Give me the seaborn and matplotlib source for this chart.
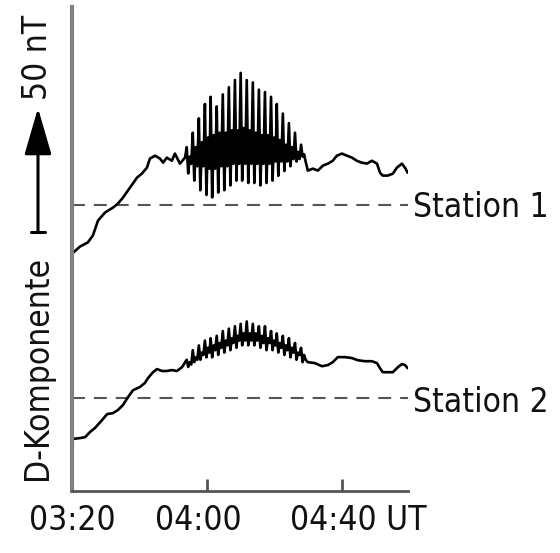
import matplotlib
matplotlib.use("Agg")
import numpy as np
import pandas as pd
import matplotlib.pyplot as plt
import seaborn as sns
from matplotlib.patches import FancyArrowPatch
from matplotlib.lines import Line2D
import matplotlib.transforms as mtransforms

# ---------------- data (minutes after 03:20, nT relative to station baseline)
s1_smooth_t = [0.0, 2.4, 4.7, 6.2, 7.7, 9.8, 12.1, 13.6, 15.1, 17.2, 19.3, 20.7,
               22.2, 23.1, 24.6, 26.1, 27.0, 28.1, 29.6, 30.5, 32.0, 33.5]
s1_smooth_v = [-20.5, -17.5, -15.8, -12.9, -6.7, -3.3, -1.3, 0.4, 2.9, 7.1, 11.3, 12.9,
               15.4, 19.2, 20.4, 19.2, 17.5, 19.6, 18.3, 21.3, 17.1, 19.6]

# pulsation samples (peak, trough, inner high, inner low per cycle)
osc_t = [34.0, 34.45, 34.9, 35.35, 35.8, 36.25, 36.7, 37.15,
         37.6, 38.05, 38.5, 38.95, 39.4, 39.85, 40.3, 40.75,
         41.1, 41.55, 42.0, 42.45, 42.9, 43.35, 43.8, 44.25,
         44.7, 45.15, 45.6, 46.05, 46.5, 46.95, 47.4, 47.85,
         48.3, 48.75, 49.1, 49.55, 50.0, 50.45, 50.9, 51.35,
         51.8, 52.25, 52.7, 53.15, 53.6, 54.05, 54.5, 54.95,
         55.4, 55.85, 56.3, 56.75, 57.2, 57.65, 58.1, 58.55,
         59.0, 59.45, 59.9, 60.35, 60.7, 61.15, 61.6, 62.05,
         62.5, 62.95, 63.4, 63.85, 64.3, 64.75, 65.2, 65.65,
         66.1, 66.55, 67.0, 67.45, 67.9, 68.35, 68.8, 69.25]
s1_osc_v = [24, 13, 20, 17, 30, 10, 24, 16, 36, 6, 26, 16, 42, 4, 28, 15,
            45, 3, 29, 15, 41, 5, 30, 16, 46, 6, 30, 16, 49, 8, 31, 17,
            52, 10, 31, 17, 55, 10, 32, 17, 52, 9, 31, 17, 51, 9, 30, 17,
            48, 8, 29, 17, 47, 9, 29, 17, 45, 10, 28, 18, 42, 12, 27, 18,
            38, 14, 25, 18, 34, 16, 24, 19, 30, 18, 22, 19, 25, 20, 21, 18]

s1_tail_t = [69.9, 71.4, 72.9, 74.4, 75.9, 77.3, 78.5, 80.0, 81.5, 83.0, 84.4, 85.9,
             87.4, 88.9, 90.4, 91.3, 92.1, 93.6, 95.1, 96.3, 97.8, 98.7, 99.5]
s1_tail_v = [14.2, 15.0, 14.2, 16.3, 17.1, 18.3, 20.4, 21.3, 20.4, 19.6, 18.3, 17.5,
             17.1, 18.3, 17.1, 13.3, 12.1, 12.1, 12.9, 15.4, 17.1, 15.4, 13.3]

s2_smooth_t = [0.0, 2.4, 3.9, 5.3, 6.8, 8.9, 10.4, 12.1, 13.6, 15.1, 16.6, 18.1,
               20.1, 21.6, 22.5, 24.0, 25.2, 26.7, 28.1, 29.6, 31.1, 32.6]
s2_smooth_v = [-17.1, -16.7, -16.3, -14.2, -12.5, -9.2, -6.7, -6.3, -5.0, -2.9, 0.4, 3.3,
               4.6, 6.3, 8.3, 10.8, 12.1, 11.3, 11.3, 11.7, 11.3, 12.9]
s2_osc_v = [16, 13, 15, 14, 20, 15, 17, 16, 22, 16, 19, 18, 24, 17, 21, 19,
            25, 17, 22, 20, 26, 18, 23, 21, 28, 19, 24, 22, 29, 20, 25, 23,
            30, 21, 26, 24, 31, 22, 27, 24, 32, 22, 27, 24, 31, 22, 27, 24,
            30, 21, 26, 23, 30, 20, 25, 23, 28, 20, 24, 22, 27, 19, 23, 21,
            26, 18, 22, 20, 25, 17, 21, 19, 23, 16, 19, 18, 21, 15, 18, 16]
s2_tail_t = [69.9, 72.0, 74.1, 75.9, 77.3, 78.8, 80.9, 83.0, 84.7, 86.8, 88.9, 90.4,
             91.3, 92.1, 93.6, 95.1, 96.6, 97.8, 98.7, 99.5]
s2_tail_v = [15.0, 14.6, 13.3, 13.8, 15.0, 17.1, 17.1, 16.7, 15.8, 15.4, 15.4, 14.6,
             12.5, 10.8, 10.8, 10.8, 12.9, 14.2, 13.8, 12.5]

stations = ["Station 1", "Station 2"]
baselines = [0.0, -80.8]
tick_pos = [0, 40, 80]
tick_labels = ["03:20", "04:00", "04:40 UT"]

# ---------------- build table
t1 = s1_smooth_t + osc_t + s1_tail_t
v1 = s1_smooth_v + s1_osc_v + s1_tail_v
t2 = s2_smooth_t + osc_t + s2_tail_t
v2 = s2_smooth_v + s2_osc_v + s2_tail_v
df = pd.concat([
    pd.DataFrame({"t": t1, "y": np.array(v1) + baselines[0], "station": stations[0]}),
    pd.DataFrame({"t": t2, "y": np.array(v2) + baselines[1], "station": stations[1]}),
], ignore_index=True)

sns.set_style("white")
plt.rcParams["font.family"] = ["DejaVu Sans"]
plt.rcParams["font.stretch"] = "condensed"
FS = 24
TXT = dict(fontsize=FS, color="#111111", fontstretch="condensed", family="DejaVu Sans")

W, H = 560, 553
fig = plt.figure(figsize=(W / 100, H / 100), dpi=100)
ax = fig.add_axes([72 / W, 1 - 491 / H, (408 - 72) / W, (491 - 7) / H])

sns.lineplot(data=df, x="t", y="y", units="station", estimator=None, sort=False,
             color="black", lw=1.9, ax=ax, legend=False)

for b, name in zip(baselines, stations):
    ax.axhline(b, color="#555555", lw=1.5, ls=(0, (6.2, 4.3)), zorder=1)

ax.set_xlim(0, 99.6)
ax.set_ylim(-119.6, 82.5)
ax.set_xlabel("")
ax.set_ylabel("")
ax.set_yticks([])
ax.set_xticks(tick_pos)
ax.set_xticklabels(tick_labels, **TXT)
ax.tick_params(axis="x", bottom=True, direction="in", length=9, width=2,
               color="#555555", pad=9)

for side in ["top", "right"]:
    ax.spines[side].set_visible(False)
ax.spines["left"].set_color("#808080")
ax.spines["left"].set_linewidth(3)
ax.spines["bottom"].set_color("#555555")
ax.spines["bottom"].set_linewidth(2)

# label shifts
labs = ax.get_xticklabels()
labs[1].set_transform(labs[1].get_transform() + mtransforms.ScaledTranslation(-9 / 100, 0, fig.dpi_scale_trans))
labs[2].set_ha("left")
labs[2].set_transform(labs[2].get_transform() + mtransforms.ScaledTranslation(-52 / 100, 0, fig.dpi_scale_trans))

# station labels
for name, yb in zip(stations, [217, 412]):
    fig.text(413 / W, 1 - yb / H, name, ha="left", va="baseline", **TXT)

# y label with scale arrow
fig.text(47 / W, 1 - 480 / H, "D-Komponente", rotation=90, rotation_mode="anchor",
         ha="left", va="baseline", **TXT)
fig.text(47 / W, 1 - 100 / H, "50 nT", rotation=90, rotation_mode="anchor",
         ha="left", va="baseline", **TXT)
arr = FancyArrowPatch((38 / W, 1 - 232 / H), (38 / W, 1 - 108 / H), transform=fig.transFigure,
                      arrowstyle="-|>,head_length=1.45,head_width=0.42", mutation_scale=20,
                      lw=2.2, color="black", shrinkA=0, shrinkB=0)
fig.add_artist(arr)
fig.add_artist(Line2D([31 / W, 45 / W], [1 - 232 / H, 1 - 232 / H], transform=fig.transFigure,
                      color="black", lw=2.2))

fig.savefig("out.png", dpi=100)
